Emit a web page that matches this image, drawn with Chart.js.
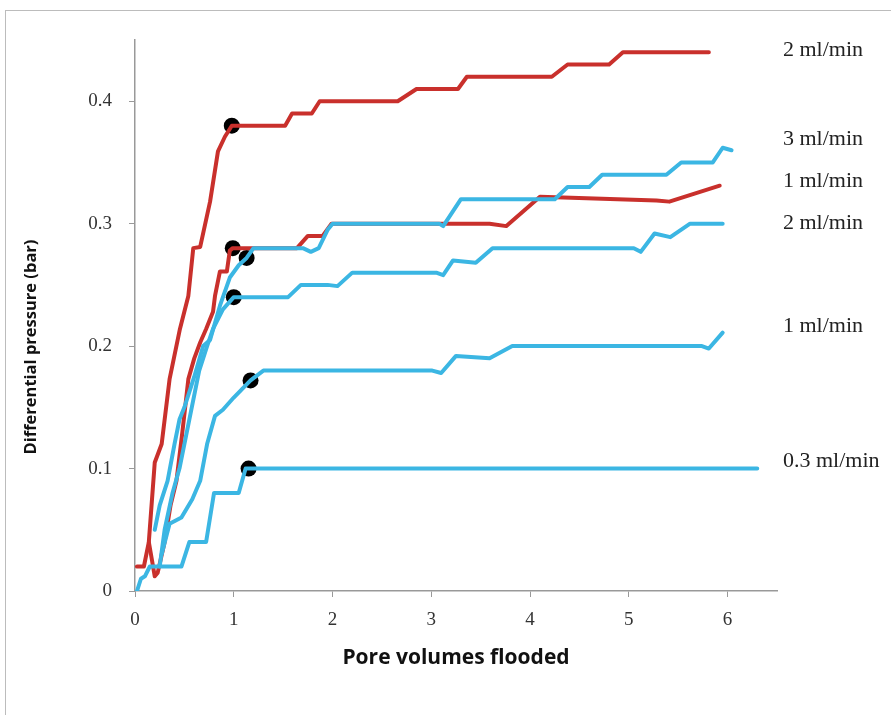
<!DOCTYPE html>
<html>
<head>
<meta charset="utf-8">
<script src="https://cdn.jsdelivr.net/npm/chart.js@4"></script>
<style>
  body { margin: 0; background: #fff; }
  #frame { position: absolute; left: 5px; top: 10px; width: 900px; height: 720px; border: 1px solid #bcbcbc; }
  #wrap { position: absolute; left: 0; top: 0; width: 891px; height: 715px; }
</style>
</head>
<body>
<div id="frame"></div>
<div id="wrap"><canvas id="pressure"></canvas></div>
<script>
// pore volumes (x) and differential pressure in bar (y)

// 2 ml/min (red, top)
var redAX = [0.02, 0.09, 0.14, 0.2, 0.27, 0.35, 0.455, 0.54, 0.59, 0.66, 0.76, 0.84, 0.91, 0.98, 1.52, 1.59, 1.79, 1.87, 2.66, 2.85, 3.27, 3.36, 4.22, 4.38, 4.8, 4.94, 5.81];
var redAY = [0.02, 0.02, 0.04, 0.105, 0.12, 0.173, 0.214, 0.241, 0.28, 0.281, 0.318, 0.359, 0.371, 0.38, 0.38, 0.39, 0.39, 0.40, 0.40, 0.41, 0.41, 0.42, 0.42, 0.43, 0.43, 0.44, 0.44];

// 1 ml/min (red)
var redBX = [0.14, 0.2, 0.23, 0.3, 0.36, 0.42, 0.48, 0.54, 0.6, 0.66, 0.72, 0.79, 0.81, 0.86, 0.93, 0.96, 0.99, 1.64, 1.75, 1.9, 1.99, 3.59, 3.76, 4.1, 5.28, 5.41, 5.92];
var redBY = [0.04, 0.012, 0.015, 0.04, 0.07, 0.09, 0.13, 0.173, 0.19, 0.203, 0.214, 0.228, 0.241, 0.261, 0.261, 0.278, 0.28, 0.28, 0.29, 0.29, 0.30, 0.30, 0.298, 0.322, 0.319, 0.318, 0.331];

// 3 ml/min (blue)
var blueAX = [0.2, 0.25, 0.33, 0.4, 0.45, 0.5, 0.6, 0.69, 0.76, 0.86, 0.96, 1.05, 1.13, 1.2, 1.7, 1.78, 1.86, 1.95, 2.0, 3.08, 3.12, 3.3, 4.25, 4.38, 4.6, 4.73, 5.38, 5.53, 5.85, 5.95, 6.04];
var blueAY = [0.05, 0.07, 0.09, 0.12, 0.14, 0.15, 0.175, 0.2, 0.205, 0.233, 0.256, 0.266, 0.272, 0.28, 0.28, 0.277, 0.28, 0.295, 0.30, 0.30, 0.298, 0.32, 0.32, 0.33, 0.33, 0.34, 0.34, 0.35, 0.35, 0.362, 0.36];

// 2 ml/min (blue)
var blueBX = [0.25, 0.3, 0.38, 0.45, 0.55, 0.65, 0.73, 0.79, 0.89, 1.0, 1.55, 1.68, 1.95, 2.05, 2.2, 3.05, 3.12, 3.22, 3.45, 3.62, 5.05, 5.12, 5.26, 5.42, 5.62, 5.95];
var blueBY = [0.02, 0.05, 0.08, 0.1, 0.14, 0.18, 0.2, 0.214, 0.23, 0.24, 0.24, 0.25, 0.25, 0.249, 0.26, 0.26, 0.258, 0.27, 0.268, 0.28, 0.28, 0.277, 0.292, 0.289, 0.30, 0.30];

// 1 ml/min (blue)
var blueCX = [0.27, 0.35, 0.47, 0.58, 0.66, 0.73, 0.81, 0.89, 1.0, 1.17, 1.3, 3.01, 3.1, 3.25, 3.59, 3.82, 5.74, 5.81, 5.95];
var blueCY = [0.03, 0.055, 0.06, 0.075, 0.09, 0.12, 0.143, 0.148, 0.158, 0.172, 0.18, 0.18, 0.178, 0.192, 0.19, 0.2, 0.2, 0.198, 0.211];

// 0.3 ml/min (blue)
var blueDX = [0.02, 0.06, 0.1, 0.15, 0.47, 0.55, 0.72, 0.8, 1.05, 1.12, 6.3];
var blueDY = [0, 0.01, 0.012, 0.02, 0.02, 0.04, 0.04, 0.08, 0.08, 0.1, 0.1];

// black markers at ~1 pore volume
var dotX = [0.98, 0.99, 1.13, 1.0, 1.17, 1.15];
var dotY = [0.38, 0.28, 0.272, 0.24, 0.172, 0.1];

// rate labels on the right
var rateLabels = ["2 ml/min", "3 ml/min", "1 ml/min", "2 ml/min", "1 ml/min", "0.3 ml/min"];
var rateLabelY = [0.442, 0.369, 0.335, 0.30, 0.216, 0.106];

var xTicks = [0, 1, 2, 3, 4, 5, 6];
var yTicks = [0, 0.1, 0.2, 0.3, 0.4];

var red = "#c9302c";
var blue = "#3bb6e3";

function pts(xs, ys) {
  return xs.map(function (x, i) { return { x: x, y: ys[i] }; });
}

function lineSet(xs, ys, color) {
  return {
    type: "line",
    data: pts(xs, ys),
    borderColor: color,
    borderWidth: 4,
    pointRadius: 0,
    tension: 0,
    borderJoinStyle: "round",
    borderCapStyle: "round",
    fill: false,
  };
}

// rate labels + y title (title sits a bit below the axis middle in the original)
const textPlugin = {
  id: "texts",
  afterDraw(chart) {
    const c = chart.ctx;
    const y = chart.scales.y;
    c.save();
    c.font = "22px 'Liberation Serif'";
    c.fillStyle = "#222";
    c.textAlign = "left";
    c.textBaseline = "middle";
    rateLabels.forEach(function (t, i) {
      c.fillText(t, 783, y.getPixelForValue(rateLabelY[i]));
    });
    c.translate(31, 347);
    c.rotate(-Math.PI / 2);
    c.textAlign = "center";
    c.fillStyle = "#111";
    c.font = "bold 16.5px 'Open Sans'";
    c.fillText("Differential pressure (bar)", 0, 0);
    c.restore();
  },
};

const ctx = document.getElementById("pressure");

const chart = new Chart(ctx, {
  type: "scatter",
  data: {
    datasets: [
      lineSet(blueDX, blueDY, blue),
      lineSet(blueCX, blueCY, blue),
      lineSet(blueBX, blueBY, blue),
      lineSet(blueAX, blueAY, blue),
      lineSet(redBX, redBY, red),
      lineSet(redAX, redAY, red),
      {
        type: "scatter",
        data: pts(dotX, dotY),
        pointRadius: 8,
        pointBackgroundColor: "#000",
        pointBorderColor: "#000",
        pointBorderWidth: 0,
      },
    ],
  },
  options: {
    responsive: true,
    maintainAspectRatio: false,
    animation: false,
    layout: {
      padding: { left: 15, top: 40, right: 114, bottom: 34 },
    },
    plugins: {
      legend: { display: false },
      tooltip: { enabled: false },
    },
    scales: {
      x: {
        type: "linear",
        min: 0,
        max: 6.5,
        afterFit: function (s) { s.height = 90; },
        afterBuildTicks: function (s) {
          s.ticks = xTicks.map(function (v) { return { value: v }; });
        },
        grid: { drawOnChartArea: false, tickLength: 6, color: "#999" },
        border: { color: "#999", width: 1.5 },
        ticks: {
          padding: 12,
          color: "#333",
          font: { family: "'Liberation Serif'", size: 19 },
        },
        title: {
          display: true,
          text: "Pore volumes flooded",
          color: "#111",
          font: { family: "'Open Sans'", size: 21, weight: "bold" },
          padding: { top: 0, bottom: 10 },
        },
      },
      y: {
        min: 0,
        max: 0.45,
        afterFit: function (s) { s.width = 120; },
        afterBuildTicks: function (s) {
          s.ticks = yTicks.map(function (v) { return { value: v }; });
        },
        grid: { drawOnChartArea: false, tickLength: 6, color: "#999" },
        border: { color: "#999", width: 1.5 },
        ticks: {
          padding: 17,
          color: "#333",
          font: { family: "'Liberation Serif'", size: 19 },
          callback: function (v) {
            return v === 0 ? "0" : v.toFixed(1);
          },
        },
      },
    },
  },
  plugins: [textPlugin],
});
</script>
</body>
</html>
